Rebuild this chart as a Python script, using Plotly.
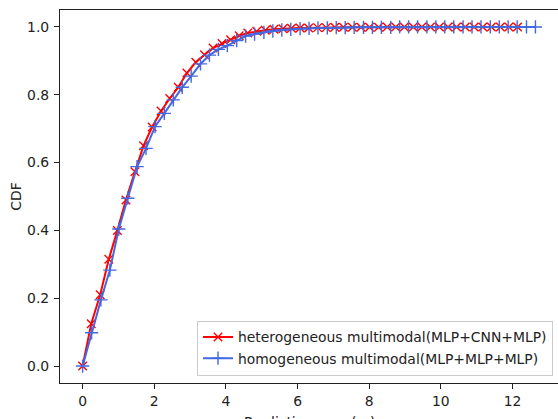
import plotly.graph_objects as go

# ---- data ----
hetero_x = [0, 0.24, 0.49, 0.73, 0.97, 1.21, 1.46, 1.70, 1.94, 2.19, 2.43, 2.67, 2.91, 3.16, 3.40,
            3.64, 3.89, 4.13, 4.37, 4.61, 4.86, 5.10, 5.34, 5.59, 5.83, 6.07, 6.31, 6.56, 6.80, 7.04,
            7.28, 7.53, 7.77, 8.01, 8.26, 8.50, 8.74, 8.98, 9.23, 9.47, 9.71, 9.96, 10.20, 10.44,
            10.68, 10.93, 11.17, 11.41, 11.66, 11.90, 12.14]
hetero_cdf = [0.0, 0.125, 0.21, 0.315, 0.40, 0.49, 0.573, 0.65, 0.705, 0.752, 0.789, 0.822, 0.864,
              0.896, 0.918, 0.938, 0.951, 0.962, 0.974, 0.982, 0.987, 0.990, 0.993, 0.995, 0.996,
              0.997, 0.997, 0.998, 0.998, 0.999, 0.999, 0.999, 0.999, 0.999, 0.999, 1.0, 1.0, 1.0,
              1.0, 1.0, 1.0, 1.0, 1.0, 1.0, 1.0, 1.0, 1.0, 1.0, 1.0, 1.0, 1.0]

homo_x = [0, 0.25, 0.51, 0.76, 1.01, 1.26, 1.52, 1.77, 2.02, 2.28, 2.53, 2.78, 3.03, 3.29, 3.54,
          3.79, 4.04, 4.30, 4.55, 4.80, 5.06, 5.31, 5.56, 5.81, 6.07, 6.32, 6.57, 6.83, 7.08, 7.33,
          7.58, 7.84, 8.09, 8.34, 8.60, 8.85, 9.10, 9.35, 9.61, 9.86, 10.11, 10.36, 10.62, 10.87,
          11.12, 11.38, 11.63, 11.88, 12.13, 12.39, 12.64]
homo_cdf = [0.0, 0.098, 0.195, 0.283, 0.404, 0.495, 0.588, 0.642, 0.706, 0.745, 0.785, 0.822, 0.855,
            0.891, 0.917, 0.934, 0.945, 0.960, 0.973, 0.979, 0.984, 0.988, 0.991, 0.993, 0.995,
            0.996, 0.997, 0.997, 0.998, 0.998, 0.999, 0.999, 0.999, 0.999, 0.999, 1.0, 1.0, 1.0,
            1.0, 1.0, 1.0, 1.0, 1.0, 1.0, 1.0, 1.0, 1.0, 1.0, 1.0, 1.0, 1.0]

labels = ["heterogeneous multimodal(MLP+CNN+MLP)", "homogeneous multimodal(MLP+MLP+MLP)"]
x_ticks = [0, 2, 4, 6, 8, 10, 12]
y_ticks = [0.0, 0.2, 0.4, 0.6, 0.8, 1.0]

FONT = "DejaVu Sans"
FS = 13.9
RED = "#ff0000"
BLUE = "#4169e1"
INK = "#222222"

fig = go.Figure()
fig.add_trace(go.Scatter(
    x=hetero_x, y=hetero_cdf, mode="lines+markers", name=labels[0],
    line=dict(color=RED, width=2),
    marker=dict(symbol="x-thin-open", size=8.5, color=RED, line=dict(color=RED, width=1.4)),
))
fig.add_trace(go.Scatter(
    x=homo_x, y=homo_cdf, mode="lines+markers", name=labels[1],
    line=dict(color=BLUE, width=2),
    marker=dict(symbol="cross-thin-open", size=9.5, color=BLUE, line=dict(color=BLUE, width=1.4)),
))

axis_common = dict(
    showgrid=False, zeroline=False, showline=True, linecolor=INK, linewidth=1.1,
    ticks="outside", ticklen=5, tickwidth=1.1, tickcolor=INK, automargin=False,
    tickfont=dict(family=FONT, size=FS, color=INK),
)

fig.update_layout(
    width=558, height=419,
    margin=dict(l=60, r=0, t=10, b=36, autoexpand=False),
    paper_bgcolor="white", plot_bgcolor="white",
    font=dict(family=FONT, size=FS, color=INK),
    xaxis=dict(range=[-0.632, 13.27], tickvals=x_ticks, ticktext=[str(v) for v in x_ticks],
               mirror=True, **axis_common),
    yaxis=dict(range=[-0.05, 1.05], tickvals=y_ticks, ticktext=[f"{v:.1f}" for v in y_ticks],
               ticklabelstandoff=2, **axis_common),
    showlegend=True,
    legend=dict(x=0.99, y=0.02, xanchor="right", yanchor="bottom",
                bgcolor="rgba(255,255,255,0.8)", bordercolor="#cccccc", borderwidth=1,
                font=dict(family=FONT, size=FS, color=INK), tracegroupgap=0,
                itemwidth=30),
    annotations=[
        dict(text="CDF", xref="paper", yref="paper", x=-0.09, y=0.5, textangle=-90,
             showarrow=False, font=dict(family=FONT, size=FS, color=INK),
             xanchor="center", yanchor="middle"),
        dict(text="Prediction error(m)", xref="paper", yref="paper", x=0.5, y=-0.078,
             showarrow=False, font=dict(family=FONT, size=FS, color=INK),
             xanchor="center", yanchor="top"),
    ],
)

fig.write_html("out.html",
               config={"displayModeBar": False},
               post_script="document.body.style.margin='0px';document.body.style.overflow='hidden';")
